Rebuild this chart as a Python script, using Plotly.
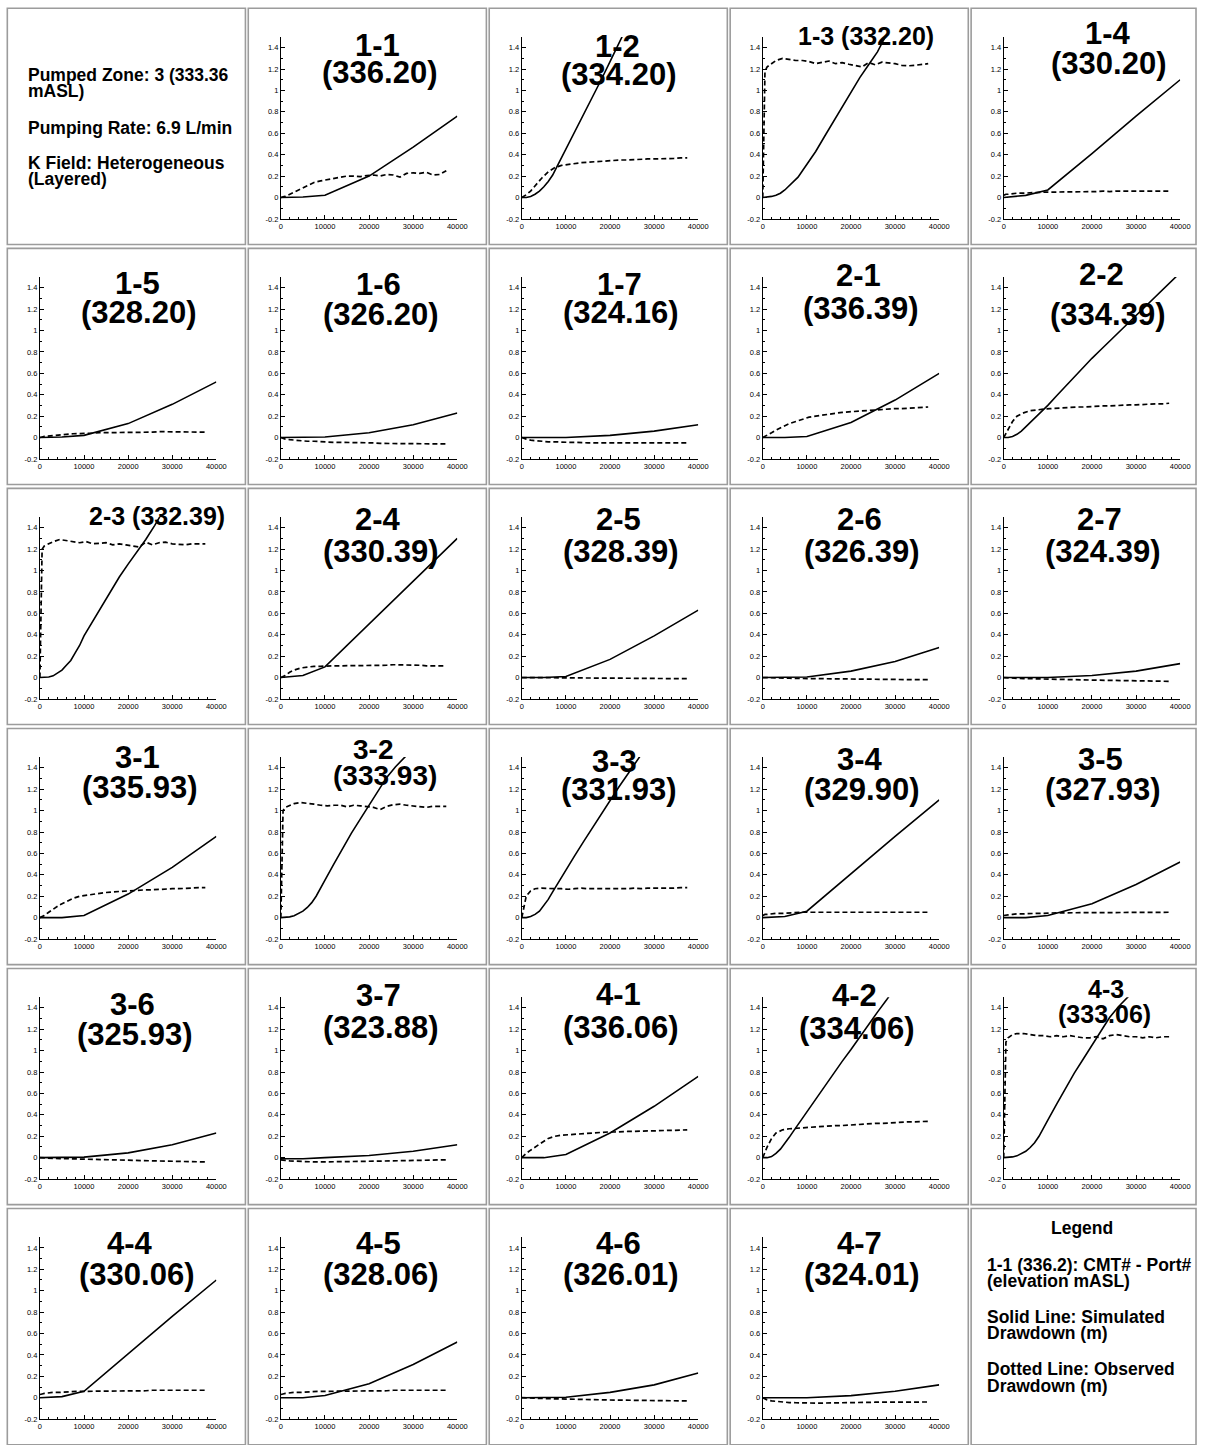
import plotly.graph_objects as go

W, H = 1207, 1445

# ---------------------------------------------------------------- data
# time (s)
t_sim_coarse = [0, 5000, 10000, 20000, 30000, 40000]
t_sim_fine = [0, 1000, 2000, 3000, 4000, 5000, 6000, 7000, 8000, 9000, 10000,
              12000, 14000, 16000, 18000, 20000, 22000, 24000, 26000, 28000,
              30000, 32000, 34000, 36000, 38000, 40000]
t_obs = [0, 250, 500, 1000, 2000, 3000, 4500, 6000, 7500, 9000, 10500, 12000,
         13500, 15000, 16500, 18000, 19500, 21000, 22500, 24000, 25500, 27000,
         28500, 30000, 31500, 33000, 34500, 36000, 37500]

x_tick_vals = [0, 10000, 20000, 30000, 40000]
x_tick_text = ["0", "10000", "20000", "30000", "40000"]
y_tick_vals = [-0.2, 0, 0.2, 0.4, 0.6, 0.8, 1.0, 1.2, 1.4]
y_tick_text = ["-0.2", "0", "0.2", "0.4", "0.6", "0.8", "1", "1.2", "1.4"]

# simulated drawdown (m)
sim_1_1 = [0, 0.005, 0.02, 0.2, 0.47, 0.76]
sim_1_2 = [0, 0.0, 0.01, 0.03, 0.06, 0.1, 0.15, 0.21, 0.29, 0.37, 0.45, 0.61, 0.77,
           0.93, 1.1, 1.27, 1.44, 1.61, None, None, None, None, None, None, None, None]
sim_1_3 = [0, 0.003, 0.01, 0.02, 0.04, 0.07, 0.11, 0.15, 0.19, 0.25, 0.31, 0.43, 0.57,
           0.71, 0.85, 0.99, 1.12, 1.24, 1.36, 1.52, None, None, None, None, None, None]
sim_1_4 = [0, 0.02, 0.07, 0.41, 0.76, 1.1]
sim_1_5 = [0, 0.005, 0.02, 0.13, 0.31, 0.52]
sim_1_6 = [0, 0, 0.005, 0.045, 0.12, 0.23]
sim_1_7 = [0, 0, 0.0, 0.02, 0.06, 0.12]
sim_2_1 = [0, 0.0, 0.01, 0.14, 0.35, 0.6]
sim_2_2 = [0, 0.0, 0.01, 0.03, 0.06, 0.1, 0.14, 0.18, 0.22, 0.26, 0.3, 0.39, 0.48,
           0.57, 0.66, 0.74, 0.82, 0.9, 0.98, 1.06, 1.14, 1.22, 1.3, 1.38, 1.46, 1.54]
sim_2_3 = [0, 0, 0.005, 0.016, 0.04, 0.07, 0.115, 0.16, 0.23, 0.3, 0.39, 0.53, 0.67,
           0.81, 0.94, 1.06, 1.17, 1.29, 1.42, 1.56, None, None, None, None, None, None]
sim_2_4 = [0, 0.02, 0.1, 0.5, 0.9, 1.3]
sim_2_5 = [0, 0, 0.01, 0.17, 0.39, 0.63]
sim_2_6 = [0, 0, 0.005, 0.06, 0.15, 0.28]
sim_2_7 = [0, 0, 0.0, 0.02, 0.06, 0.13]
sim_3_1 = [0, 0.0, 0.02, 0.22, 0.47, 0.76]
sim_3_2 = [0, 0.002, 0.007, 0.017, 0.035, 0.06, 0.095, 0.14, 0.2, 0.27, 0.35, 0.5, 0.65,
           0.79, 0.92, 1.05, 1.18, 1.31, 1.41, 1.49, 1.58, None, None, None, None, None]
sim_3_3 = [0, 0, 0.01, 0.03, 0.06, 0.11, 0.17, 0.24, 0.31, 0.38, 0.45, 0.58, 0.71,
           0.84, 0.97, 1.1, 1.22, 1.34, 1.46, 1.58, None, None, None, None, None, None]
sim_3_4 = [0, 0.01, 0.06, 0.41, 0.76, 1.1]
sim_3_5 = [0, 0, 0.02, 0.13, 0.31, 0.52]
sim_3_6 = [0, 0, 0.005, 0.045, 0.12, 0.23]
sim_3_7 = [-0.01, -0.01, 0.0, 0.02, 0.06, 0.12]
sim_4_1 = [0, 0, 0.03, 0.23, 0.48, 0.76]
sim_4_2 = [0, 0, 0.01, 0.04, 0.08, 0.13, 0.19, 0.25, 0.31, 0.37, 0.43, 0.55, 0.66,
           0.78, 0.9, 1.01, 1.13, 1.24, 1.36, 1.47, 1.59, None, None, None, None, None]
sim_4_3 = [0, 0.002, 0.007, 0.017, 0.035, 0.06, 0.095, 0.14, 0.2, 0.27, 0.35, 0.5, 0.65,
           0.79, 0.92, 1.05, 1.18, 1.31, 1.41, 1.49, 1.58, None, None, None, None, None]
sim_4_4 = [0, 0.01, 0.06, 0.41, 0.76, 1.1]
sim_4_5 = [0, 0, 0.02, 0.13, 0.31, 0.52]
sim_4_6 = [0, 0, 0.005, 0.05, 0.12, 0.23]
sim_4_7 = [0, 0, 0.0, 0.02, 0.06, 0.12]

# observed drawdown (m)
obs_1_1 = [0, 0.0, 0.005, 0.01, 0.03, 0.05, 0.08, 0.11, 0.14, 0.155, 0.165, 0.175, 0.19,
           0.2, 0.2, 0.195, 0.205, 0.21, 0.2, 0.215, 0.21, 0.19, 0.225, 0.23, 0.225,
           0.235, 0.21, 0.215, 0.25]
obs_1_2 = [0, 0.005, 0.01, 0.025, 0.06, 0.11, 0.18, 0.24, 0.28, 0.3, 0.31, 0.32, 0.325,
           0.33, 0.335, 0.34, 0.34, 0.345, 0.35, 0.35, 0.355, 0.355, 0.36, 0.36, 0.36,
           0.365, 0.365, 0.37, 0.37]
obs_1_3 = [0, 0.65, 1.18, 1.22, 1.25, 1.28, 1.3, 1.29, 1.28, 1.28, 1.27, 1.25, 1.265,
           1.275, 1.25, 1.26, 1.245, 1.23, 1.22, 1.26, 1.24, 1.265, 1.26, 1.25, 1.235,
           1.23, 1.235, 1.24, 1.25]
obs_1_4 = [0.02, 0.025, 0.03, 0.03, 0.035, 0.04, 0.04, 0.045, 0.045, 0.05, 0.05, 0.05,
           0.05, 0.055, 0.055, 0.055, 0.055, 0.055, 0.06, 0.055, 0.06, 0.06, 0.06, 0.06,
           0.06, 0.06, 0.06, 0.06, 0.06]
obs_1_5 = [0, 0.0, 0.005, 0.01, 0.015, 0.02, 0.025, 0.03, 0.035, 0.035, 0.04, 0.04, 0.045,
           0.045, 0.045, 0.05, 0.05, 0.05, 0.05, 0.05, 0.05, 0.055, 0.055, 0.055, 0.05,
           0.05, 0.05, 0.05, 0.05]
obs_1_6 = [0, -0.005, -0.01, -0.015, -0.02, -0.025, -0.03, -0.035, -0.035, -0.04, -0.04,
           -0.045, -0.045, -0.045, -0.05, -0.05, -0.05, -0.05, -0.055, -0.055, -0.055,
           -0.055, -0.055, -0.06, -0.06, -0.06, -0.06, -0.06, -0.06]
obs_1_7 = [0, -0.005, -0.01, -0.015, -0.025, -0.03, -0.035, -0.04, -0.04, -0.045, -0.045,
           -0.045, -0.05, -0.05, -0.05, -0.05, -0.05, -0.05, -0.05, -0.05, -0.05, -0.05,
           -0.05, -0.05, -0.05, -0.05, -0.05, -0.05, -0.05]
obs_2_1 = [0, 0.005, 0.01, 0.02, 0.045, 0.07, 0.1, 0.13, 0.15, 0.17, 0.19, 0.2, 0.21,
           0.22, 0.23, 0.235, 0.24, 0.245, 0.25, 0.25, 0.255, 0.26, 0.265, 0.27, 0.27,
           0.275, 0.28, 0.28, 0.285]
obs_2_2 = [0, 0.02, 0.04, 0.08, 0.15, 0.2, 0.23, 0.25, 0.26, 0.265, 0.27, 0.275, 0.28,
           0.28, 0.285, 0.285, 0.29, 0.29, 0.295, 0.295, 0.3, 0.3, 0.305, 0.305, 0.31,
           0.31, 0.315, 0.315, 0.32]
obs_2_3 = [0, 0.7, 1.2, 1.23, 1.25, 1.27, 1.29, 1.28, 1.27, 1.26, 1.27, 1.25, 1.255,
           1.26, 1.24, 1.25, 1.24, 1.23, 1.22, 1.265, 1.24, 1.26, 1.265, 1.25, 1.245,
           1.24, 1.25, 1.25, 1.25]
obs_2_4 = [0, 0.005, 0.01, 0.02, 0.05, 0.07, 0.09, 0.1, 0.105, 0.105, 0.11, 0.11, 0.11,
           0.11, 0.11, 0.115, 0.115, 0.115, 0.115, 0.115, 0.12, 0.12, 0.115, 0.115, 0.115,
           0.11, 0.11, 0.11, 0.11]
obs_2_5 = [0, 0, 0, 0, 0, 0, 0, 0, 0, -0.002, -0.002, -0.003, -0.003, -0.004, -0.004,
           -0.005, -0.005, -0.005, -0.006, -0.006, -0.007, -0.007, -0.008, -0.008, -0.008,
           -0.009, -0.009, -0.01, -0.01]
obs_2_6 = [0, 0, 0, -0.002, -0.003, -0.004, -0.005, -0.006, -0.008, -0.009, -0.01, -0.011,
           -0.012, -0.013, -0.014, -0.015, -0.015, -0.016, -0.016, -0.017, -0.017, -0.018,
           -0.018, -0.019, -0.019, -0.02, -0.02, -0.02, -0.02]
obs_2_7 = [0, 0, -0.002, -0.003, -0.005, -0.007, -0.009, -0.011, -0.013, -0.015, -0.016,
           -0.018, -0.019, -0.02, -0.021, -0.022, -0.023, -0.024, -0.025, -0.026, -0.027,
           -0.028, -0.029, -0.03, -0.031, -0.032, -0.033, -0.034, -0.035]
obs_3_1 = [0, 0.005, 0.01, 0.02, 0.05, 0.08, 0.12, 0.15, 0.18, 0.2, 0.21, 0.22, 0.23,
           0.235, 0.24, 0.245, 0.25, 0.25, 0.255, 0.26, 0.26, 0.265, 0.265, 0.27, 0.27,
           0.275, 0.275, 0.28, 0.28]
obs_3_2 = [0, 0.6, 1.0, 1.03, 1.05, 1.065, 1.075, 1.07, 1.06, 1.05, 1.045, 1.05, 1.05,
           1.035, 1.05, 1.045, 1.04, 1.03, 1.01, 1.04, 1.055, 1.06, 1.05, 1.045, 1.035,
           1.03, 1.04, 1.04, 1.04]
obs_3_3 = [0, 0.05, 0.12, 0.2, 0.25, 0.27, 0.275, 0.27, 0.27, 0.27, 0.265, 0.27, 0.275,
           0.27, 0.27, 0.265, 0.27, 0.27, 0.265, 0.27, 0.275, 0.27, 0.275, 0.275, 0.27,
           0.275, 0.275, 0.28, 0.28]
obs_3_4 = [0.02, 0.025, 0.03, 0.03, 0.035, 0.04, 0.04, 0.045, 0.045, 0.05, 0.05, 0.05,
           0.05, 0.05, 0.05, 0.055, 0.05, 0.05, 0.055, 0.055, 0.05, 0.05, 0.055, 0.055,
           0.055, 0.05, 0.05, 0.05, 0.05]
obs_3_5 = [0.02, 0.02, 0.025, 0.025, 0.03, 0.035, 0.035, 0.04, 0.04, 0.04, 0.045, 0.045,
           0.045, 0.045, 0.045, 0.05, 0.05, 0.045, 0.05, 0.05, 0.05, 0.05, 0.05, 0.05,
           0.05, 0.05, 0.05, 0.05, 0.05]
obs_3_6 = [0, 0, 0, -0.002, -0.004, -0.006, -0.008, -0.01, -0.012, -0.014, -0.016, -0.018,
           -0.019, -0.02, -0.022, -0.023, -0.024, -0.025, -0.027, -0.028, -0.03, -0.031,
           -0.032, -0.034, -0.035, -0.036, -0.037, -0.038, -0.04]
obs_3_7 = [-0.02, -0.02, -0.022, -0.025, -0.03, -0.033, -0.036, -0.04, -0.04, -0.04, -0.04,
           -0.04, -0.038, -0.037, -0.036, -0.035, -0.034, -0.033, -0.032, -0.031, -0.03,
           -0.029, -0.027, -0.025, -0.024, -0.023, -0.022, -0.021, -0.02]
obs_4_1 = [0, 0.01, 0.02, 0.04, 0.07, 0.1, 0.14, 0.18, 0.2, 0.21, 0.215, 0.22, 0.225,
           0.23, 0.235, 0.235, 0.24, 0.24, 0.245, 0.245, 0.245, 0.25, 0.25, 0.25, 0.255,
           0.255, 0.255, 0.26, 0.26]
obs_4_2 = [0, 0.02, 0.05, 0.1, 0.18, 0.23, 0.26, 0.27, 0.275, 0.28, 0.285, 0.29, 0.29,
           0.295, 0.3, 0.3, 0.305, 0.31, 0.31, 0.315, 0.32, 0.32, 0.325, 0.33, 0.33, 0.335,
           0.335, 0.34, 0.34]
obs_4_3 = [0, 0.6, 1.08, 1.12, 1.15, 1.16, 1.16, 1.15, 1.14, 1.14, 1.13, 1.14, 1.13,
           1.14, 1.13, 1.12, 1.12, 1.13, 1.11, 1.14, 1.15, 1.14, 1.13, 1.13, 1.12, 1.13,
           1.12, 1.13, 1.13]
obs_4_4 = [0.03, 0.03, 0.035, 0.04, 0.045, 0.05, 0.05, 0.055, 0.055, 0.06, 0.06, 0.06,
           0.06, 0.06, 0.065, 0.065, 0.065, 0.065, 0.065, 0.065, 0.07, 0.07, 0.07, 0.07,
           0.07, 0.07, 0.07, 0.07, 0.07]
obs_4_5 = [0.03, 0.03, 0.035, 0.04, 0.045, 0.05, 0.05, 0.055, 0.055, 0.06, 0.06, 0.06,
           0.06, 0.06, 0.065, 0.065, 0.065, 0.065, 0.065, 0.065, 0.07, 0.07, 0.07, 0.07,
           0.07, 0.07, 0.07, 0.07, 0.07]
obs_4_6 = [0, 0, 0, -0.002, -0.004, -0.005, -0.007, -0.009, -0.011, -0.013, -0.014, -0.016,
           -0.017, -0.018, -0.019, -0.02, -0.021, -0.022, -0.023, -0.024, -0.025, -0.025,
           -0.026, -0.027, -0.027, -0.028, -0.029, -0.03, -0.03]
obs_4_7 = [0, -0.005, -0.01, -0.02, -0.03, -0.035, -0.04, -0.045, -0.047, -0.05, -0.05,
           -0.05, -0.05, -0.048, -0.047, -0.046, -0.045, -0.045, -0.044, -0.043, -0.042,
           -0.042, -0.041, -0.04, -0.04, -0.04, -0.04, -0.04, -0.04]

# port labels: CMT#-Port#, (elevation mASL)
port_ids = ["1-1", "1-2", "1-3", "1-4", "1-5", "1-6", "1-7",
            "2-1", "2-2", "2-3", "2-4", "2-5", "2-6", "2-7",
            "3-1", "3-2", "3-3", "3-4", "3-5", "3-6", "3-7",
            "4-1", "4-2", "4-3", "4-4", "4-5", "4-6", "4-7"]
port_elev = ["(336.20)", "(334.20)", "(332.20)", "(330.20)", "(328.20)", "(326.20)", "(324.16)",
             "(336.39)", "(334.39)", "(332.39)", "(330.39)", "(328.39)", "(326.39)", "(324.39)",
             "(335.93)", "(333.93)", "(331.93)", "(329.90)", "(327.93)", "(325.93)", "(323.88)",
             "(336.06)", "(334.06)", "(333.06)", "(330.06)", "(328.06)", "(326.01)", "(324.01)"]

info_lines = ["Pumped Zone: 3 (333.36", "mASL)", "Pumping Rate: 6.9 L/min",
              "K Field: Heterogeneous", "(Layered)"]
legend_lines = ["1-1 (336.2): CMT# - Port#", "(elevation mASL)", "Solid Line: Simulated",
                "Drawdown (m)", "Dotted Line: Observed", "Drawdown (m)"]

# ---------------------------------------------------------------- layout helpers
sims = [sim_1_1, sim_1_2, sim_1_3, sim_1_4, sim_1_5, sim_1_6, sim_1_7,
        sim_2_1, sim_2_2, sim_2_3, sim_2_4, sim_2_5, sim_2_6, sim_2_7,
        sim_3_1, sim_3_2, sim_3_3, sim_3_4, sim_3_5, sim_3_6, sim_3_7,
        sim_4_1, sim_4_2, sim_4_3, sim_4_4, sim_4_5, sim_4_6, sim_4_7]
obss = [obs_1_1, obs_1_2, obs_1_3, obs_1_4, obs_1_5, obs_1_6, obs_1_7,
        obs_2_1, obs_2_2, obs_2_3, obs_2_4, obs_2_5, obs_2_6, obs_2_7,
        obs_3_1, obs_3_2, obs_3_3, obs_3_4, obs_3_5, obs_3_6, obs_3_7,
        obs_4_1, obs_4_2, obs_4_3, obs_4_4, obs_4_5, obs_4_6, obs_4_7]

# title placement on the sheet grid: (x1, y1, x2, y2, size); y2 None => single line
title_pos = [
    (377, 45, 379, 72, 31), (617, 46, 618, 74, 31), (864, 36, None, None, 25),
    (1106, 33, 1106, 63, 31),
    (138, 284, 139, 313, 31), (378, 285, 380, 315, 31), (619, 285, 620, 313, 31),
    (857, 276, 859, 309, 31), (1099, 275, 1105, 315, 31),
    (157, 516, None, None, 25), (378, 520, 380, 552, 31), (618, 520, 620, 552, 31),
    (858, 520, 860, 552, 31), (1097, 520, 1100, 552, 31),
    (138, 758, 140, 788, 31), (373, 750, 385, 776, 28), (614, 762, 618, 790, 31),
    (858, 760, 860, 790, 31), (1098, 760, 1100, 790, 31),
    (133, 1006, 135, 1036, 31), (378, 997, 380, 1029, 31), (618, 996, 620, 1029, 31),
    (853, 997, 855, 1030, 31), (1104, 990, 1102, 1015, 25),
    (130, 1245, 137, 1276, 31), (378, 1245, 380, 1276, 31), (618, 1245, 620, 1276, 31),
    (858, 1245, 860, 1276, 31),
]

FONT = "Liberation Sans, Arial, Helvetica, sans-serif"
PITCH_X, PITCH_Y = 240.33, 240.4
BOX_W, BOX_H = 237.5, 236.5

# sheet-grid units -> figure pixels
GX0, GXS = 2.7, 0.9875
GY0, GYS = -0.3, 0.998


def px_x(x):
    return min((x - GX0) / GXS, W - 1) / W


def px_y(y):
    return 1 - ((y - GY0) / GYS) / H


fig = go.Figure()
shapes = []
annotations = []

# panel frames (6 rows x 5 columns)
for r in range(6):
    for c in range(5):
        L = 8 + PITCH_X * c
        T = 8 + PITCH_Y * r
        shapes.append(dict(type="rect", xref="paper", yref="paper",
                           x0=px_x(L), x1=px_x(L + BOX_W),
                           y0=px_y(T + BOX_H), y1=px_y(T),
                           line=dict(color="#9c9c9c", width=1.6),
                           fillcolor="rgba(0,0,0,0)", layer="below"))

for i in range(28):
    cell = i + 1  # first cell holds the info text
    r, c = divmod(cell, 5)
    L = 8 + PITCH_X * c
    T = 8 + PITCH_Y * r
    n = i + 1
    xa = "x" if n == 1 else f"x{n}"
    ya = "y" if n == 1 else f"y{n}"
    sim = sims[i]
    t_sim = t_sim_coarse if len(sim) == len(t_sim_coarse) else t_sim_fine
    fig.add_trace(go.Scatter(x=t_obs, y=obss[i], mode="lines", xaxis=xa, yaxis=ya,
                             line=dict(color="black", width=1.7, dash="5px,3px"),
                             showlegend=False, hoverinfo="skip"))
    fig.add_trace(go.Scatter(x=t_sim, y=sim, mode="lines", xaxis=xa, yaxis=ya,
                             line=dict(color="black", width=1.6),
                             connectgaps=False, showlegend=False, hoverinfo="skip"))
    axis_common = dict(showline=True, linecolor="black", linewidth=1,
                       ticks="inside", tickcolor="black", ticklen=4, tickwidth=1,
                       showgrid=False, zeroline=False, fixedrange=True,
                       tickfont=dict(family=FONT, size=7.5, color="black"))
    fig.layout[f"xaxis{'' if n == 1 else n}"] = dict(
        domain=[px_x(L + 32.5), px_x(L + 208.5)], anchor=ya,
        range=[0, 40000], tickvals=x_tick_vals, ticktext=x_tick_text,
        minor=dict(ticks="inside", dtick=2000, ticklen=2, tickcolor="black"),
        **axis_common)
    fig.layout[f"yaxis{'' if n == 1 else n}"] = dict(
        domain=[px_y(T + 210.9), px_y(T + 28.7)], anchor=xa,
        range=[-0.2, 1.5], tickvals=y_tick_vals, ticktext=y_tick_text,
        minor=dict(ticks="inside", dtick=0.1, ticklen=2, tickcolor="black"),
        **axis_common)

    x1, y1, x2, y2, size = title_pos[i]
    if y2 is None:
        annotations.append(dict(text=f"{port_ids[i]} {port_elev[i]}", x=px_x(x1), y=px_y(y1),
                                xref="paper", yref="paper", showarrow=False,
                                xanchor="center", yanchor="middle",
                                font=dict(family=FONT, size=size, color="black", weight="bold")))
    else:
        annotations.append(dict(text=port_ids[i], x=px_x(x1), y=px_y(y1),
                                xref="paper", yref="paper", showarrow=False,
                                xanchor="center", yanchor="middle",
                                font=dict(family=FONT, size=size, color="black", weight="bold")))
        annotations.append(dict(text=port_elev[i], x=px_x(x2), y=px_y(y2),
                                xref="paper", yref="paper", showarrow=False,
                                xanchor="center", yanchor="middle",
                                font=dict(family=FONT, size=size, color="black", weight="bold")))

# info panel text
info_y = [75, 91, 127.5, 163, 179]
for txt, yy in zip(info_lines, info_y):
    annotations.append(dict(text=txt, x=px_x(26.5), y=px_y(yy), xref="paper", yref="paper",
                            showarrow=False, xanchor="left", yanchor="middle",
                            font=dict(family=FONT, size=17.5, color="black", weight="bold")))

# legend panel text
annotations.append(dict(text="Legend", x=px_x(1080), y=px_y(1229), xref="paper", yref="paper",
                        showarrow=False, xanchor="center", yanchor="middle",
                        font=dict(family=FONT, size=17.5, color="black", weight="bold")))
legend_y = [1266.5, 1282.5, 1318.5, 1334.5, 1371, 1387.5]
for txt, yy in zip(legend_lines, legend_y):
    annotations.append(dict(text=txt, x=px_x(983), y=px_y(yy), xref="paper", yref="paper",
                            showarrow=False, xanchor="left", yanchor="middle",
                            font=dict(family=FONT, size=17.5, color="black", weight="bold")))

fig.update_layout(width=W, height=H, margin=dict(l=0, r=0, t=0, b=0), autosize=False,
                  paper_bgcolor="white", plot_bgcolor="rgba(0,0,0,0)",
                  shapes=shapes, annotations=annotations, showlegend=False)

page_css = ("document.documentElement.style.margin='0';"
            "document.documentElement.style.overflow='hidden';"
            "document.body.style.margin='0';"
            "document.body.style.padding='0';"
            "document.body.style.overflow='hidden';")
fig.write_html("out.html", config={"displayModeBar": False, "responsive": False},
               post_script=page_css)
